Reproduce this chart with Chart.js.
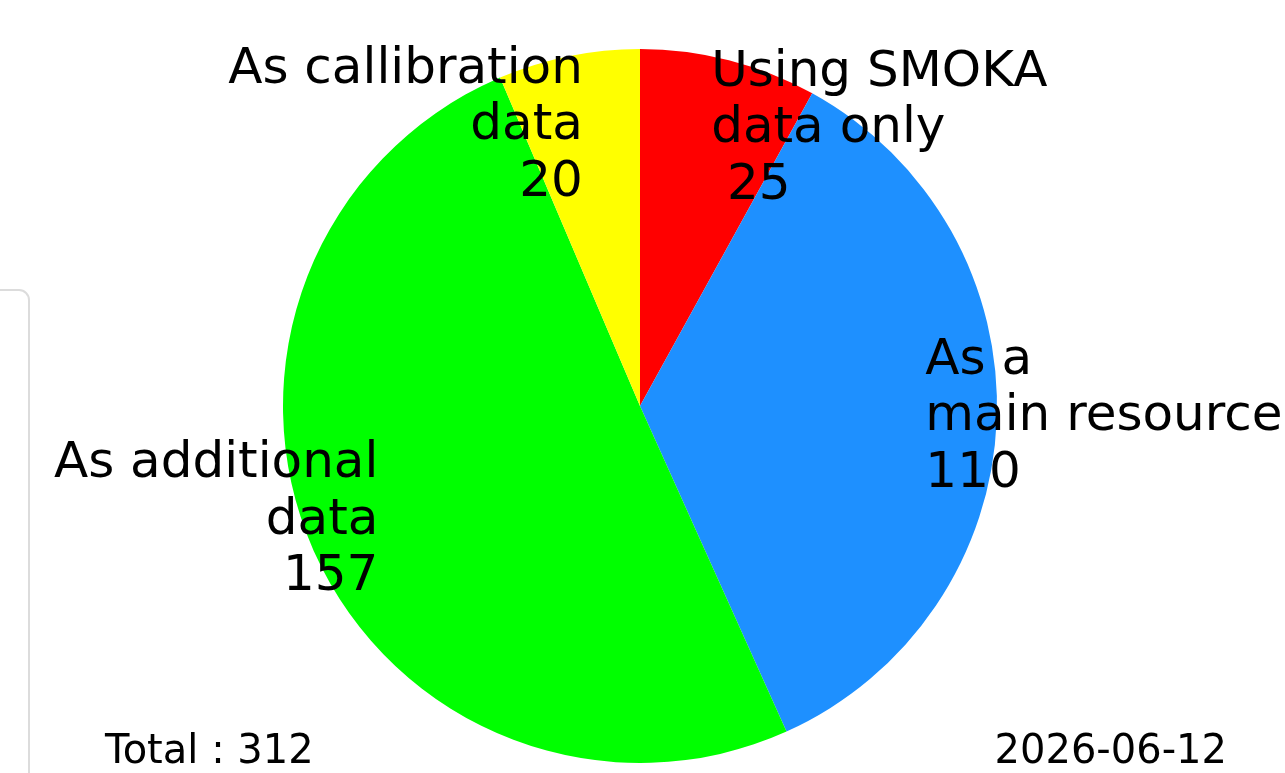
<!DOCTYPE html>
<html>
<head>
<meta charset="utf-8">
<script src="https://cdn.jsdelivr.net/npm/chart.js@4"></script>
<style>
  html, body { margin: 0; padding: 0; background: #fff; overflow: hidden; }
  #wrap { position: relative; width: 1285px; height: 773px; }
  #box { position: absolute; left: -200px; top: 289px; width: 226px; height: 600px;
         border: 2px solid #dcdcdc; border-radius: 11px; }
  canvas { position: absolute; left: 0; top: 0; }
</style>
</head>
<body>
<div id="wrap">
  <div id="box"></div>
  <canvas id="pie-chart" width="1285" height="773"></canvas>
</div>
<script>
var categories = [["Using SMOKA", "data only"], ["As a", "main resource"], ["As additional", "data"], ["As callibration", "data"]];
var values = [25, 110, 157, 20];
var valueText = [" 25", "110", "157", "20"];
var colors = ["#ff0000", "#1e90ff", "#00ff00", "#ffff00"];
var totalText = "Total : 312";
var dateText = "2026-06-12";

var labelFont = "50px 'DejaVu Sans'";
var lineH = 56.5;

// matplotlib-like labels: placed at 0.8 r along slice middle, centred vertically
var pieLabels = {
  id: "pieLabels",
  afterDatasetsDraw: function(chart) {
    var c = chart.ctx;
    var meta = chart.getDatasetMeta(0);
    c.save();
    c.fillStyle = "#000";
    c.font = labelFont;
    c.textBaseline = "middle";
    meta.data.forEach(function(arc, i) {
      var p = arc.getProps(["x", "y", "startAngle", "endAngle", "outerRadius"], true);
      var mid = (p.startAngle + p.endAngle) / 2;
      var lx = p.x + Math.cos(mid) * p.outerRadius * 0.8;
      var ly = p.y + Math.sin(mid) * p.outerRadius * 0.8;
      var lines = categories[i].concat([valueText[i]]);
      c.textAlign = lx >= p.x ? "left" : "right";
      var top = ly - (lines.length - 1) * lineH / 2;
      lines.forEach(function(t, k) {
        c.fillText(t, lx, top + k * lineH);
      });
    });
    c.font = "40px 'DejaVu Sans'";
    c.textBaseline = "alphabetic";
    c.textAlign = "left";
    c.fillText(totalText, 105, 763);
    c.textAlign = "right";
    c.fillText(dateText, 1227, 763);
    c.restore();
  }
};

var ctx = document.getElementById("pie-chart");
var pieChart = new Chart(ctx, {
  type: 'pie',
  data: {
    labels: categories.map(function(l) { return l.join(" "); }),
    datasets: [
      {
        data: values,
        backgroundColor: colors,
        borderWidth: 0
      }
    ]
  },
  options: {
    responsive: false,
    animation: false,
    layout: { padding: { top: 49, bottom: 10, left: 0, right: 5 } },
    plugins: {
      legend: { display: false },
      tooltip: { enabled: false }
    }
  },
  plugins: [pieLabels]
});
</script>
</body>
</html>
